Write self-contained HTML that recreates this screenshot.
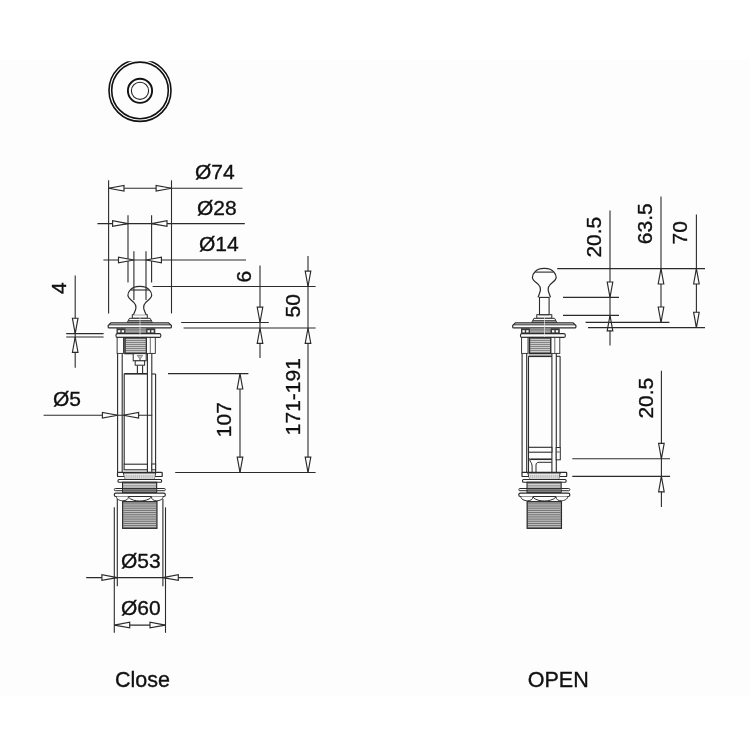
<!DOCTYPE html>
<html><head><meta charset="utf-8"><style>
html,body{margin:0;padding:0;background:#fff;}
svg{display:block;will-change:transform;}
</style></head><body>
<svg width="750" height="750" viewBox="0 0 750 750">
<rect width="750" height="750" fill="#fff"/>
<rect x="0" y="60" width="750" height="636" fill="#fdfdfd"/>
<defs><clipPath id="cp"><rect x="0" y="61.2" width="750" height="700"/></clipPath></defs>
<g clip-path="url(#cp)">
<circle cx="140" cy="90.4" r="31.0" fill="none" stroke="#111" stroke-width="1.6"/>
</g>
<circle cx="140" cy="90.4" r="28.3" fill="none" stroke="#111" stroke-width="1.6"/>
<circle cx="140" cy="90.8" r="12.1" fill="none" stroke="#111" stroke-width="1.9"/>
<circle cx="140" cy="90.8" r="8.6" fill="none" stroke="#222" stroke-width="1.1"/>
<rect x="132.3" y="314.7" width="15" height="3.6" rx="0" fill="#fdfdfd" stroke="#2b2b2b" stroke-width="1.0"/>
<path d="M129.5,318.3 L150.1,318.3 L152.4,322.6 L127.2,322.6 Z" fill="#fdfdfd" stroke="#2b2b2b" stroke-width="1.0"/>
<line x1="128.3" y1="320.5" x2="151.3" y2="320.5" stroke="#2b2b2b" stroke-width="0.8"/>
<rect x="127.6" y="321.3" width="24.4" height="1.3" rx="0" fill="#666" stroke="#2b2b2b" stroke-width="0"/>
<path d="M110.9,322.8 L168.6,322.8 L171.4,325.5 L171.4,326.9 Q171.4,327.8 170.4,327.8 L109.2,327.8 Q108.2,327.8 108.2,326.9 L108.2,325.5 Z" fill="#fdfdfd" stroke="#2b2b2b" stroke-width="1.2"/>
<line x1="109.2" y1="324.8" x2="170.4" y2="324.8" stroke="#2b2b2b" stroke-width="1.0"/>
<path d="M133.6,314.7 C134.3,312.3 135.8,310.3 135.95,307.8 C136.1,306.3 135.8,304.3 133.8,302.3 C131.8,300.3 128.0,298.3 127.9,295.3 C127.8,293.3 128.6,291.7 130.3,289.9 C131.8,287.8 134.8,286.3 139.8,286.3 C144.8,286.3 147.8,287.8 149.3,289.9 C151.0,291.7 151.8,293.3 151.7,295.3 C151.6,298.3 147.8,300.3 145.8,302.3 C143.8,304.3 143.5,306.3 143.65,307.8 C143.8,310.3 145.3,312.3 146.0,314.7" fill="#fdfdfd" stroke="#2b2b2b" stroke-width="1.2"/>
<line x1="130.6" y1="290.0" x2="149.0" y2="290.0" stroke="#2b2b2b" stroke-width="1.1"/>
<line x1="117.6" y1="328.6" x2="117.6" y2="472.6" stroke="#2b2b2b" stroke-width="1.1"/>
<line x1="122.2" y1="328.6" x2="122.2" y2="472.6" stroke="#2b2b2b" stroke-width="1.1"/>
<line x1="147.4" y1="328.6" x2="147.4" y2="472.6" stroke="#2b2b2b" stroke-width="1.1"/>
<line x1="151.8" y1="328.6" x2="151.8" y2="472.6" stroke="#2b2b2b" stroke-width="1.1"/>
<rect x="125.8" y="328.3" width="28" height="5.3" rx="0" fill="#858585" stroke="#2b2b2b" stroke-width="0"/>
<line x1="125.8" y1="331.2" x2="145.8" y2="331.2" stroke="#c8c8c8" stroke-width="0.6"/>
<rect x="116.5" y="328.3" width="9.2" height="5.3" rx="0" fill="#3a3a3a" stroke="#2b2b2b" stroke-width="0"/>
<rect x="117.9" y="330.2" width="2.4" height="2.2" rx="0" fill="#fdfdfd" stroke="#2b2b2b" stroke-width="0"/>
<rect x="121.7" y="330.2" width="2.4" height="2.2" rx="0" fill="#fdfdfd" stroke="#2b2b2b" stroke-width="0"/>
<rect x="146.1" y="328.3" width="9.2" height="5.3" rx="0" fill="#3a3a3a" stroke="#2b2b2b" stroke-width="0"/>
<rect x="147.5" y="330.2" width="2.4" height="2.2" rx="0" fill="#fdfdfd" stroke="#2b2b2b" stroke-width="0"/>
<rect x="151.3" y="330.2" width="2.4" height="2.2" rx="0" fill="#fdfdfd" stroke="#2b2b2b" stroke-width="0"/>
<rect x="116" y="333.6" width="44.8" height="3.8" rx="1.5" fill="#fdfdfd" stroke="#2b2b2b" stroke-width="1.1"/>
<rect x="124.9" y="337.6" width="21.6" height="16.0" rx="0" fill="#7c7c7c" stroke="#2b2b2b" stroke-width="1.4"/>
<line x1="125.9" y1="339.6" x2="145.5" y2="339.6" stroke="#dedede" stroke-width="0.9"/>
<line x1="125.9" y1="341.6" x2="145.5" y2="341.6" stroke="#dedede" stroke-width="0.9"/>
<line x1="125.9" y1="343.6" x2="145.5" y2="343.6" stroke="#dedede" stroke-width="0.9"/>
<line x1="125.9" y1="345.6" x2="145.5" y2="345.6" stroke="#dedede" stroke-width="0.9"/>
<line x1="125.9" y1="347.6" x2="145.5" y2="347.6" stroke="#dedede" stroke-width="0.9"/>
<line x1="125.9" y1="349.6" x2="145.5" y2="349.6" stroke="#dedede" stroke-width="0.9"/>
<line x1="125.9" y1="351.6" x2="145.5" y2="351.6" stroke="#dedede" stroke-width="0.9"/>
<rect x="117.1" y="337.4" width="6.4" height="16" rx="0" fill="#fdfdfd" stroke="#2b2b2b" stroke-width="0.9"/>
<rect x="146.5" y="337.4" width="8.8" height="16" rx="0" fill="#fdfdfd" stroke="#2b2b2b" stroke-width="0.9"/>
<line x1="150.3" y1="337.4" x2="150.3" y2="353.4" stroke="#2b2b2b" stroke-width="0.7"/>
<line x1="140.0" y1="316" x2="140.0" y2="337" stroke="#e8e8e8" stroke-width="0.7"/>
<line x1="137.4" y1="365.2" x2="137.4" y2="373.8" stroke="#2b2b2b" stroke-width="1.1"/>
<line x1="142.6" y1="365.2" x2="142.6" y2="373.8" stroke="#2b2b2b" stroke-width="1.1"/>
<rect x="133.2" y="353.6" width="13" height="7.2" rx="0" fill="#fdfdfd" stroke="#2b2b2b" stroke-width="1.0"/>
<path d="M137.2,355.4 L142.6,355.4 L141.0,357.8 L140.0,360 L139.0,357.8 Z" fill="#bbb" stroke="#555" stroke-width="0.6"/>
<rect x="135.2" y="360.8" width="9.4" height="4.4" rx="0" fill="#fdfdfd" stroke="#2b2b2b" stroke-width="1.0"/>
<line x1="124.2" y1="373.8" x2="147.4" y2="373.8" stroke="#2b2b2b" stroke-width="1.6"/>
<line x1="124.2" y1="373.8" x2="124.2" y2="464.2" stroke="#2b2b2b" stroke-width="1.1"/>
<line x1="151.8" y1="374" x2="155.6" y2="374" stroke="#2b2b2b" stroke-width="1.1"/>
<line x1="155.6" y1="374" x2="155.6" y2="472.6" stroke="#2b2b2b" stroke-width="1.1"/>
<rect x="124.1" y="464.2" width="23.3" height="5.6" rx="0" fill="#fdfdfd" stroke="#2b2b2b" stroke-width="1.1"/>
<rect x="151.8" y="464" width="3.8" height="5.8" rx="0" fill="#fdfdfd" stroke="#2b2b2b" stroke-width="1.0"/>
<rect x="117.5" y="472.4" width="44.7" height="4.1" rx="0.6" fill="#fdfdfd" stroke="#2b2b2b" stroke-width="1.2"/>
<path d="M123.3,473.0 L155.7,473.0 L154.1,479.4 L125.3,479.4 Z" fill="#fdfdfd" stroke="#2b2b2b" stroke-width="1.0"/>
<rect x="124.6" y="474.6" width="30.2" height="4.0" rx="0" fill="#bdbdbd" stroke="#2b2b2b" stroke-width="0"/>
<line x1="125.2" y1="474.6" x2="125.2" y2="478.6" stroke="#f0f0f0" stroke-width="0.6"/>
<line x1="127.1" y1="474.6" x2="127.1" y2="478.6" stroke="#f0f0f0" stroke-width="0.6"/>
<line x1="129" y1="474.6" x2="129" y2="478.6" stroke="#f0f0f0" stroke-width="0.6"/>
<line x1="130.9" y1="474.6" x2="130.9" y2="478.6" stroke="#f0f0f0" stroke-width="0.6"/>
<line x1="132.8" y1="474.6" x2="132.8" y2="478.6" stroke="#f0f0f0" stroke-width="0.6"/>
<line x1="134.7" y1="474.6" x2="134.7" y2="478.6" stroke="#f0f0f0" stroke-width="0.6"/>
<line x1="136.6" y1="474.6" x2="136.6" y2="478.6" stroke="#f0f0f0" stroke-width="0.6"/>
<line x1="138.5" y1="474.6" x2="138.5" y2="478.6" stroke="#f0f0f0" stroke-width="0.6"/>
<line x1="140.4" y1="474.6" x2="140.4" y2="478.6" stroke="#f0f0f0" stroke-width="0.6"/>
<line x1="142.3" y1="474.6" x2="142.3" y2="478.6" stroke="#f0f0f0" stroke-width="0.6"/>
<line x1="144.2" y1="474.6" x2="144.2" y2="478.6" stroke="#f0f0f0" stroke-width="0.6"/>
<line x1="146.1" y1="474.6" x2="146.1" y2="478.6" stroke="#f0f0f0" stroke-width="0.6"/>
<line x1="148.0" y1="474.6" x2="148.0" y2="478.6" stroke="#f0f0f0" stroke-width="0.6"/>
<line x1="149.9" y1="474.6" x2="149.9" y2="478.6" stroke="#f0f0f0" stroke-width="0.6"/>
<line x1="151.8" y1="474.6" x2="151.8" y2="478.6" stroke="#f0f0f0" stroke-width="0.6"/>
<line x1="153.7" y1="474.6" x2="153.7" y2="478.6" stroke="#f0f0f0" stroke-width="0.6"/>
<rect x="118" y="479.5" width="43.6" height="2.8" rx="1" fill="#fdfdfd" stroke="#2b2b2b" stroke-width="1.1"/>
<rect x="122.6" y="482.3" width="34" height="10" rx="0" fill="#efefef" stroke="#2b2b2b" stroke-width="1.2"/>
<line x1="123.2" y1="483.6" x2="156.4" y2="483.6" stroke="#666" stroke-width="0.8"/>
<line x1="123.2" y1="485.3" x2="156.4" y2="485.3" stroke="#777" stroke-width="0.8"/>
<line x1="123.2" y1="487.0" x2="156.4" y2="487.0" stroke="#666" stroke-width="0.8"/>
<rect x="114.3" y="488.5" width="51" height="2.2" rx="1" fill="none" stroke="#2b2b2b" stroke-width="1.0"/>
<rect x="123.2" y="488.9" width="33.2" height="1.5" rx="0" fill="#808080" stroke="#2b2b2b" stroke-width="0"/>
<line x1="123.2" y1="491.4" x2="156.4" y2="491.4" stroke="#777" stroke-width="0.8"/>
<rect x="114.3" y="493.2" width="51" height="3.3" rx="1.5" fill="#fdfdfd" stroke="#2b2b2b" stroke-width="1.2"/>
<path d="M116.4,496.5 C116.4,499.5 119.8,500.6 122.8,500.8 C125.8,500.8 128.5,499.5 128.5,496.5" fill="#fdfdfd" stroke="#2b2b2b" stroke-width="1.0"/>
<path d="M128.5,497.2 C130.8,500 135.8,501 139.8,501 C143.8,501 148.8,500 151.4,497.2" fill="#fdfdfd" stroke="#2b2b2b" stroke-width="1.0"/>
<path d="M151.4,496.5 C151.4,499.5 153.8,500.8 156.8,500.8 C159.8,500.6 163.1,499.5 163.1,496.5" fill="#fdfdfd" stroke="#2b2b2b" stroke-width="1.0"/>
<rect x="122.7" y="501.7" width="34.2" height="26.6" rx="0" fill="#d0d0d0" stroke="#2b2b2b" stroke-width="1.3"/>
<line x1="123.4" y1="503.2" x2="156.2" y2="503.2" stroke="#555" stroke-width="0.8"/>
<line x1="123.4" y1="505.05" x2="156.2" y2="505.05" stroke="#555" stroke-width="0.8"/>
<line x1="123.4" y1="506.9" x2="156.2" y2="506.9" stroke="#555" stroke-width="0.8"/>
<line x1="123.4" y1="508.75" x2="156.2" y2="508.75" stroke="#555" stroke-width="0.8"/>
<line x1="123.4" y1="510.6" x2="156.2" y2="510.6" stroke="#555" stroke-width="0.8"/>
<line x1="123.4" y1="512.45" x2="156.2" y2="512.45" stroke="#555" stroke-width="0.8"/>
<line x1="123.4" y1="514.3" x2="156.2" y2="514.3" stroke="#555" stroke-width="0.8"/>
<line x1="123.4" y1="516.15" x2="156.2" y2="516.15" stroke="#555" stroke-width="0.8"/>
<line x1="123.4" y1="518.0" x2="156.2" y2="518.0" stroke="#555" stroke-width="0.8"/>
<line x1="123.4" y1="519.85" x2="156.2" y2="519.85" stroke="#555" stroke-width="0.8"/>
<line x1="123.4" y1="521.7" x2="156.2" y2="521.7" stroke="#555" stroke-width="0.8"/>
<line x1="123.4" y1="523.55" x2="156.2" y2="523.55" stroke="#555" stroke-width="0.8"/>
<line x1="123.4" y1="525.4" x2="156.2" y2="525.4" stroke="#555" stroke-width="0.8"/>
<line x1="123.4" y1="527.25" x2="156.2" y2="527.25" stroke="#555" stroke-width="0.8"/>
<rect x="536.8" y="314.7" width="15" height="3.6" rx="0" fill="#fdfdfd" stroke="#2b2b2b" stroke-width="1.0"/>
<path d="M534.0,318.3 L554.6,318.3 L556.9,322.6 L531.7,322.6 Z" fill="#fdfdfd" stroke="#2b2b2b" stroke-width="1.0"/>
<line x1="532.8" y1="320.5" x2="555.8" y2="320.5" stroke="#2b2b2b" stroke-width="0.8"/>
<rect x="532.1" y="321.3" width="24.4" height="1.3" rx="0" fill="#666" stroke="#2b2b2b" stroke-width="0"/>
<path d="M515.4,322.8 L573.1,322.8 L575.9,325.5 L575.9,326.9 Q575.9,327.8 574.9,327.8 L513.7,327.8 Q512.7,327.8 512.7,326.9 L512.7,325.5 Z" fill="#fdfdfd" stroke="#2b2b2b" stroke-width="1.2"/>
<line x1="513.7" y1="324.8" x2="574.9" y2="324.8" stroke="#2b2b2b" stroke-width="1.0"/>
<path d="M538.1,297.4 C538.8,294.4 540.3,292.4 540.45,289.9 C540.6,288.4 540.3,286.4 538.3,284.4 C536.3,282.4 532.5,280.4 532.4,277.4 C532.3,275.4 533.1,273.8 534.8,272.0 C536.3,269.9 539.3,268.4 544.3,268.4 C549.3,268.4 552.3,269.9 553.8,272.0 C555.5,273.8 556.3,275.4 556.2,277.4 C556.1,280.4 552.3,282.4 550.3,284.4 C548.3,286.4 548.0,288.4 548.15,289.9 C548.3,292.4 549.8,294.4 550.5,297.4" fill="#fdfdfd" stroke="#2b2b2b" stroke-width="1.2"/>
<line x1="535.1" y1="272.1" x2="553.5" y2="272.1" stroke="#2b2b2b" stroke-width="1.1"/>
<rect x="539.5" y="297.4" width="9.6" height="17.3" rx="0" fill="#fdfdfd" stroke="#2b2b2b" stroke-width="1.1"/>
<line x1="522.1" y1="328.6" x2="522.1" y2="472.6" stroke="#2b2b2b" stroke-width="1.1"/>
<line x1="526.7" y1="328.6" x2="526.7" y2="472.6" stroke="#2b2b2b" stroke-width="1.1"/>
<line x1="551.9" y1="328.6" x2="551.9" y2="472.6" stroke="#2b2b2b" stroke-width="1.1"/>
<line x1="556.3" y1="328.6" x2="556.3" y2="472.6" stroke="#2b2b2b" stroke-width="1.1"/>
<rect x="530.3" y="328.3" width="28" height="5.3" rx="0" fill="#858585" stroke="#2b2b2b" stroke-width="0"/>
<line x1="530.3" y1="331.2" x2="550.3" y2="331.2" stroke="#c8c8c8" stroke-width="0.6"/>
<rect x="521.0" y="328.3" width="9.2" height="5.3" rx="0" fill="#3a3a3a" stroke="#2b2b2b" stroke-width="0"/>
<rect x="522.4" y="330.2" width="2.4" height="2.2" rx="0" fill="#fdfdfd" stroke="#2b2b2b" stroke-width="0"/>
<rect x="526.2" y="330.2" width="2.4" height="2.2" rx="0" fill="#fdfdfd" stroke="#2b2b2b" stroke-width="0"/>
<rect x="550.6" y="328.3" width="9.2" height="5.3" rx="0" fill="#3a3a3a" stroke="#2b2b2b" stroke-width="0"/>
<rect x="552" y="330.2" width="2.4" height="2.2" rx="0" fill="#fdfdfd" stroke="#2b2b2b" stroke-width="0"/>
<rect x="555.8" y="330.2" width="2.4" height="2.2" rx="0" fill="#fdfdfd" stroke="#2b2b2b" stroke-width="0"/>
<rect x="520.5" y="333.6" width="44.8" height="3.8" rx="1.5" fill="#fdfdfd" stroke="#2b2b2b" stroke-width="1.1"/>
<rect x="529.4" y="337.6" width="21.6" height="16.0" rx="0" fill="#7c7c7c" stroke="#2b2b2b" stroke-width="1.4"/>
<line x1="530.4" y1="339.6" x2="550.0" y2="339.6" stroke="#dedede" stroke-width="0.9"/>
<line x1="530.4" y1="341.6" x2="550.0" y2="341.6" stroke="#dedede" stroke-width="0.9"/>
<line x1="530.4" y1="343.6" x2="550.0" y2="343.6" stroke="#dedede" stroke-width="0.9"/>
<line x1="530.4" y1="345.6" x2="550.0" y2="345.6" stroke="#dedede" stroke-width="0.9"/>
<line x1="530.4" y1="347.6" x2="550.0" y2="347.6" stroke="#dedede" stroke-width="0.9"/>
<line x1="530.4" y1="349.6" x2="550.0" y2="349.6" stroke="#dedede" stroke-width="0.9"/>
<line x1="530.4" y1="351.6" x2="550.0" y2="351.6" stroke="#dedede" stroke-width="0.9"/>
<rect x="521.6" y="337.4" width="6.4" height="16" rx="0" fill="#fdfdfd" stroke="#2b2b2b" stroke-width="0.9"/>
<rect x="551.0" y="337.4" width="8.8" height="16" rx="0" fill="#fdfdfd" stroke="#2b2b2b" stroke-width="0.9"/>
<line x1="554.8" y1="337.4" x2="554.8" y2="353.4" stroke="#2b2b2b" stroke-width="0.7"/>
<line x1="544.5" y1="316" x2="544.5" y2="337" stroke="#e8e8e8" stroke-width="0.7"/>
<line x1="528.5" y1="356.3" x2="551.9" y2="356.3" stroke="#2b2b2b" stroke-width="1.6"/>
<line x1="528.5" y1="356.3" x2="528.5" y2="472.6" stroke="#2b2b2b" stroke-width="1.1"/>
<line x1="556.3" y1="356.3" x2="560.1" y2="356.3" stroke="#2b2b2b" stroke-width="1.1"/>
<line x1="560.1" y1="356.3" x2="560.1" y2="447.5" stroke="#2b2b2b" stroke-width="1.1"/>
<rect x="528.5" y="447.3" width="23.4" height="4.9" rx="0" fill="#fdfdfd" stroke="#2b2b2b" stroke-width="1.1"/>
<path d="M528.5,452.2 L528.5,457.5 C528.5,458.8 529.3,459.3 530.8,459.3 L551.7,459.3" fill="none" stroke="#2b2b2b" stroke-width="1.0"/>
<line x1="530.5" y1="459.3" x2="551.7" y2="459.3" stroke="#2b2b2b" stroke-width="1.5"/>
<rect x="556.2" y="447.5" width="4.1" height="12.3" rx="0" fill="#fdfdfd" stroke="#2b2b2b" stroke-width="1.0"/>
<line x1="556.9" y1="452" x2="559.7" y2="452" stroke="#2b2b2b" stroke-width="0.8"/>
<path d="M529.7,459.3 C529.7,462 532.1,462.5 532.1,466 L532.1,472.6" fill="none" stroke="#2b2b2b" stroke-width="1.0"/>
<path d="M536.0,472.6 L536.0,465 C536.0,463.2 537.1,462.3 539.0,462.3 L551.7,462.3" fill="none" stroke="#2b2b2b" stroke-width="1.0"/>
<rect x="522.0" y="472.4" width="44.7" height="4.1" rx="0.6" fill="#fdfdfd" stroke="#2b2b2b" stroke-width="1.2"/>
<path d="M527.8,473.0 L560.2,473.0 L558.6,479.4 L529.8,479.4 Z" fill="#fdfdfd" stroke="#2b2b2b" stroke-width="1.0"/>
<rect x="529.1" y="474.6" width="30.2" height="4.0" rx="0" fill="#bdbdbd" stroke="#2b2b2b" stroke-width="0"/>
<line x1="529.7" y1="474.6" x2="529.7" y2="478.6" stroke="#f0f0f0" stroke-width="0.6"/>
<line x1="531.6" y1="474.6" x2="531.6" y2="478.6" stroke="#f0f0f0" stroke-width="0.6"/>
<line x1="533.5" y1="474.6" x2="533.5" y2="478.6" stroke="#f0f0f0" stroke-width="0.6"/>
<line x1="535.4" y1="474.6" x2="535.4" y2="478.6" stroke="#f0f0f0" stroke-width="0.6"/>
<line x1="537.3" y1="474.6" x2="537.3" y2="478.6" stroke="#f0f0f0" stroke-width="0.6"/>
<line x1="539.2" y1="474.6" x2="539.2" y2="478.6" stroke="#f0f0f0" stroke-width="0.6"/>
<line x1="541.1" y1="474.6" x2="541.1" y2="478.6" stroke="#f0f0f0" stroke-width="0.6"/>
<line x1="543" y1="474.6" x2="543" y2="478.6" stroke="#f0f0f0" stroke-width="0.6"/>
<line x1="544.9" y1="474.6" x2="544.9" y2="478.6" stroke="#f0f0f0" stroke-width="0.6"/>
<line x1="546.8" y1="474.6" x2="546.8" y2="478.6" stroke="#f0f0f0" stroke-width="0.6"/>
<line x1="548.7" y1="474.6" x2="548.7" y2="478.6" stroke="#f0f0f0" stroke-width="0.6"/>
<line x1="550.6" y1="474.6" x2="550.6" y2="478.6" stroke="#f0f0f0" stroke-width="0.6"/>
<line x1="552.5" y1="474.6" x2="552.5" y2="478.6" stroke="#f0f0f0" stroke-width="0.6"/>
<line x1="554.4" y1="474.6" x2="554.4" y2="478.6" stroke="#f0f0f0" stroke-width="0.6"/>
<line x1="556.3" y1="474.6" x2="556.3" y2="478.6" stroke="#f0f0f0" stroke-width="0.6"/>
<line x1="558.2" y1="474.6" x2="558.2" y2="478.6" stroke="#f0f0f0" stroke-width="0.6"/>
<rect x="522.5" y="479.5" width="43.6" height="2.8" rx="1" fill="#fdfdfd" stroke="#2b2b2b" stroke-width="1.1"/>
<rect x="527.1" y="482.3" width="34" height="10" rx="0" fill="#efefef" stroke="#2b2b2b" stroke-width="1.2"/>
<line x1="527.7" y1="483.6" x2="560.9" y2="483.6" stroke="#666" stroke-width="0.8"/>
<line x1="527.7" y1="485.3" x2="560.9" y2="485.3" stroke="#777" stroke-width="0.8"/>
<line x1="527.7" y1="487.0" x2="560.9" y2="487.0" stroke="#666" stroke-width="0.8"/>
<rect x="518.8" y="488.5" width="51" height="2.2" rx="1" fill="none" stroke="#2b2b2b" stroke-width="1.0"/>
<rect x="527.7" y="488.9" width="33.2" height="1.5" rx="0" fill="#808080" stroke="#2b2b2b" stroke-width="0"/>
<line x1="527.7" y1="491.4" x2="560.9" y2="491.4" stroke="#777" stroke-width="0.8"/>
<rect x="518.8" y="493.2" width="51" height="3.3" rx="1.5" fill="#fdfdfd" stroke="#2b2b2b" stroke-width="1.2"/>
<path d="M520.9,496.5 C520.9,499.5 524.3,500.6 527.3,500.8 C530.3,500.8 533.0,499.5 533.0,496.5" fill="#fdfdfd" stroke="#2b2b2b" stroke-width="1.0"/>
<path d="M533.0,497.2 C535.3,500 540.3,501 544.3,501 C548.3,501 553.3,500 555.9,497.2" fill="#fdfdfd" stroke="#2b2b2b" stroke-width="1.0"/>
<path d="M555.9,496.5 C555.9,499.5 558.3,500.8 561.3,500.8 C564.3,500.6 567.6,499.5 567.6,496.5" fill="#fdfdfd" stroke="#2b2b2b" stroke-width="1.0"/>
<rect x="527.2" y="501.7" width="34.2" height="26.6" rx="0" fill="#d0d0d0" stroke="#2b2b2b" stroke-width="1.3"/>
<line x1="527.9" y1="503.2" x2="560.7" y2="503.2" stroke="#555" stroke-width="0.8"/>
<line x1="527.9" y1="505.05" x2="560.7" y2="505.05" stroke="#555" stroke-width="0.8"/>
<line x1="527.9" y1="506.9" x2="560.7" y2="506.9" stroke="#555" stroke-width="0.8"/>
<line x1="527.9" y1="508.75" x2="560.7" y2="508.75" stroke="#555" stroke-width="0.8"/>
<line x1="527.9" y1="510.6" x2="560.7" y2="510.6" stroke="#555" stroke-width="0.8"/>
<line x1="527.9" y1="512.45" x2="560.7" y2="512.45" stroke="#555" stroke-width="0.8"/>
<line x1="527.9" y1="514.3" x2="560.7" y2="514.3" stroke="#555" stroke-width="0.8"/>
<line x1="527.9" y1="516.15" x2="560.7" y2="516.15" stroke="#555" stroke-width="0.8"/>
<line x1="527.9" y1="518.0" x2="560.7" y2="518.0" stroke="#555" stroke-width="0.8"/>
<line x1="527.9" y1="519.85" x2="560.7" y2="519.85" stroke="#555" stroke-width="0.8"/>
<line x1="527.9" y1="521.7" x2="560.7" y2="521.7" stroke="#555" stroke-width="0.8"/>
<line x1="527.9" y1="523.55" x2="560.7" y2="523.55" stroke="#555" stroke-width="0.8"/>
<line x1="527.9" y1="525.4" x2="560.7" y2="525.4" stroke="#555" stroke-width="0.8"/>
<line x1="527.9" y1="527.25" x2="560.7" y2="527.25" stroke="#555" stroke-width="0.8"/>
<line x1="108.6" y1="180.3" x2="108.6" y2="313.5" stroke="#2b2b2b" stroke-width="1.1"/>
<line x1="171.5" y1="180.3" x2="171.5" y2="313.5" stroke="#2b2b2b" stroke-width="1.1"/>
<line x1="108.6" y1="188.3" x2="242.5" y2="188.3" stroke="#2b2b2b" stroke-width="1.1"/>
<polygon points="108.60,188.30 124.00,185.50 124.00,191.10" fill="#fdfdfd" stroke="#2b2b2b" stroke-width="1.15" stroke-linejoin="miter"/>
<polygon points="171.50,188.30 156.10,185.50 156.10,191.10" fill="#fdfdfd" stroke="#2b2b2b" stroke-width="1.15" stroke-linejoin="miter"/>
<line x1="128" y1="215.3" x2="128" y2="282.5" stroke="#2b2b2b" stroke-width="1.1"/>
<line x1="151.6" y1="215.3" x2="151.6" y2="282.5" stroke="#2b2b2b" stroke-width="1.1"/>
<line x1="97.4" y1="223.6" x2="244.8" y2="223.6" stroke="#2b2b2b" stroke-width="1.1"/>
<polygon points="128.00,223.60 112.60,220.80 112.60,226.40" fill="#fdfdfd" stroke="#2b2b2b" stroke-width="1.15" stroke-linejoin="miter"/>
<polygon points="151.60,223.60 167.00,220.80 167.00,226.40" fill="#fdfdfd" stroke="#2b2b2b" stroke-width="1.15" stroke-linejoin="miter"/>
<line x1="133.9" y1="251.2" x2="133.9" y2="300" stroke="#2b2b2b" stroke-width="1.1"/>
<line x1="146" y1="251.2" x2="146" y2="300" stroke="#2b2b2b" stroke-width="1.1"/>
<line x1="103.4" y1="260" x2="246" y2="260" stroke="#2b2b2b" stroke-width="1.1"/>
<polygon points="133.90,260.00 118.50,257.20 118.50,262.80" fill="#fdfdfd" stroke="#2b2b2b" stroke-width="1.15" stroke-linejoin="miter"/>
<polygon points="146.00,260.00 161.40,257.20 161.40,262.80" fill="#fdfdfd" stroke="#2b2b2b" stroke-width="1.15" stroke-linejoin="miter"/>
<line x1="152.6" y1="286.5" x2="315.6" y2="286.5" stroke="#2b2b2b" stroke-width="1.1"/>
<line x1="181.2" y1="322.5" x2="268.8" y2="322.5" stroke="#2b2b2b" stroke-width="1.1"/>
<line x1="183.6" y1="328" x2="315.6" y2="328" stroke="#2b2b2b" stroke-width="1.1"/>
<line x1="260" y1="265.6" x2="260" y2="358" stroke="#2b2b2b" stroke-width="1.1"/>
<polygon points="260.00,322.50 257.20,307.10 262.80,307.10" fill="#fdfdfd" stroke="#2b2b2b" stroke-width="1.15" stroke-linejoin="miter"/>
<polygon points="260.00,328.00 257.20,343.40 262.80,343.40" fill="#fdfdfd" stroke="#2b2b2b" stroke-width="1.15" stroke-linejoin="miter"/>
<line x1="308" y1="256" x2="308" y2="472.5" stroke="#2b2b2b" stroke-width="1.1"/>
<polygon points="308.00,286.50 305.20,271.10 310.80,271.10" fill="#fdfdfd" stroke="#2b2b2b" stroke-width="1.15" stroke-linejoin="miter"/>
<polygon points="308.00,328.00 305.20,343.40 310.80,343.40" fill="#fdfdfd" stroke="#2b2b2b" stroke-width="1.15" stroke-linejoin="miter"/>
<polygon points="308.00,472.50 305.20,457.10 310.80,457.10" fill="#fdfdfd" stroke="#2b2b2b" stroke-width="1.15" stroke-linejoin="miter"/>
<line x1="168" y1="373.6" x2="248.4" y2="373.6" stroke="#2b2b2b" stroke-width="1.1"/>
<line x1="240" y1="373.6" x2="240" y2="472.5" stroke="#2b2b2b" stroke-width="1.1"/>
<polygon points="240.00,373.60 237.20,389.00 242.80,389.00" fill="#fdfdfd" stroke="#2b2b2b" stroke-width="1.15" stroke-linejoin="miter"/>
<polygon points="240.00,472.50 237.20,457.10 242.80,457.10" fill="#fdfdfd" stroke="#2b2b2b" stroke-width="1.15" stroke-linejoin="miter"/>
<line x1="175.2" y1="472.5" x2="315.6" y2="472.5" stroke="#2b2b2b" stroke-width="1.1"/>
<line x1="75.2" y1="275.4" x2="75.2" y2="367.8" stroke="#2b2b2b" stroke-width="1.1"/>
<line x1="66.2" y1="333.6" x2="103.6" y2="333.6" stroke="#2b2b2b" stroke-width="1.1"/>
<line x1="66.2" y1="337" x2="103.6" y2="337" stroke="#2b2b2b" stroke-width="1.1"/>
<polygon points="75.20,333.60 72.40,318.20 78.00,318.20" fill="#fdfdfd" stroke="#2b2b2b" stroke-width="1.15" stroke-linejoin="miter"/>
<polygon points="75.20,337.00 72.40,352.40 78.00,352.40" fill="#fdfdfd" stroke="#2b2b2b" stroke-width="1.15" stroke-linejoin="miter"/>
<line x1="43.6" y1="415.3" x2="152.2" y2="415.3" stroke="#2b2b2b" stroke-width="1.1"/>
<polygon points="117.80,415.30 102.40,412.50 102.40,418.10" fill="#fdfdfd" stroke="#2b2b2b" stroke-width="1.15" stroke-linejoin="miter"/>
<polygon points="123.20,415.30 138.60,412.50 138.60,418.10" fill="#fdfdfd" stroke="#2b2b2b" stroke-width="1.15" stroke-linejoin="miter"/>
<line x1="117.3" y1="499" x2="117.3" y2="586.2" stroke="#2b2b2b" stroke-width="1.1"/>
<line x1="162.9" y1="499" x2="162.9" y2="586.2" stroke="#2b2b2b" stroke-width="1.1"/>
<line x1="86.2" y1="577.6" x2="193" y2="577.6" stroke="#2b2b2b" stroke-width="1.1"/>
<polygon points="117.30,577.60 101.90,574.80 101.90,580.40" fill="#fdfdfd" stroke="#2b2b2b" stroke-width="1.15" stroke-linejoin="miter"/>
<polygon points="162.90,577.60 178.30,574.80 178.30,580.40" fill="#fdfdfd" stroke="#2b2b2b" stroke-width="1.15" stroke-linejoin="miter"/>
<line x1="114.3" y1="507.3" x2="114.3" y2="632.8" stroke="#2b2b2b" stroke-width="1.1"/>
<line x1="165.5" y1="507.3" x2="165.5" y2="632.8" stroke="#2b2b2b" stroke-width="1.1"/>
<line x1="114.3" y1="625.1" x2="165.4" y2="625.1" stroke="#2b2b2b" stroke-width="1.1"/>
<polygon points="114.30,625.10 129.70,622.30 129.70,627.90" fill="#fdfdfd" stroke="#2b2b2b" stroke-width="1.15" stroke-linejoin="miter"/>
<polygon points="165.40,625.10 150.00,622.30 150.00,627.90" fill="#fdfdfd" stroke="#2b2b2b" stroke-width="1.15" stroke-linejoin="miter"/>
<line x1="557.2" y1="268.6" x2="705" y2="268.6" stroke="#2b2b2b" stroke-width="1.1"/>
<line x1="610" y1="210.6" x2="610" y2="345.4" stroke="#2b2b2b" stroke-width="1.1"/>
<polygon points="610.00,297.40 607.20,282.00 612.80,282.00" fill="#fdfdfd" stroke="#2b2b2b" stroke-width="1.15" stroke-linejoin="miter"/>
<polygon points="610.00,315.40 607.20,330.80 612.80,330.80" fill="#fdfdfd" stroke="#2b2b2b" stroke-width="1.15" stroke-linejoin="miter"/>
<line x1="563" y1="297.4" x2="619" y2="297.4" stroke="#2b2b2b" stroke-width="1.1"/>
<line x1="563" y1="315.4" x2="619" y2="315.4" stroke="#2b2b2b" stroke-width="1.1"/>
<line x1="585.6" y1="322.4" x2="669.4" y2="322.4" stroke="#2b2b2b" stroke-width="1.1"/>
<line x1="588" y1="327.6" x2="705" y2="327.6" stroke="#2b2b2b" stroke-width="1.1"/>
<line x1="661" y1="196.6" x2="661" y2="322.4" stroke="#2b2b2b" stroke-width="1.1"/>
<polygon points="661.00,268.60 658.20,284.00 663.80,284.00" fill="#fdfdfd" stroke="#2b2b2b" stroke-width="1.15" stroke-linejoin="miter"/>
<polygon points="661.00,322.40 658.20,307.00 663.80,307.00" fill="#fdfdfd" stroke="#2b2b2b" stroke-width="1.15" stroke-linejoin="miter"/>
<line x1="696.4" y1="214.6" x2="696.4" y2="327.6" stroke="#2b2b2b" stroke-width="1.1"/>
<polygon points="696.40,268.60 693.60,284.00 699.20,284.00" fill="#fdfdfd" stroke="#2b2b2b" stroke-width="1.15" stroke-linejoin="miter"/>
<polygon points="696.40,327.60 693.60,312.20 699.20,312.20" fill="#fdfdfd" stroke="#2b2b2b" stroke-width="1.15" stroke-linejoin="miter"/>
<line x1="661.4" y1="370.8" x2="661.4" y2="507" stroke="#2b2b2b" stroke-width="1.1"/>
<polygon points="661.40,458.80 658.60,443.40 664.20,443.40" fill="#fdfdfd" stroke="#2b2b2b" stroke-width="1.15" stroke-linejoin="miter"/>
<polygon points="661.40,476.40 658.60,491.80 664.20,491.80" fill="#fdfdfd" stroke="#2b2b2b" stroke-width="1.15" stroke-linejoin="miter"/>
<line x1="572.3" y1="458.8" x2="670" y2="458.8" stroke="#2b2b2b" stroke-width="1.1"/>
<line x1="572.3" y1="476.4" x2="670" y2="476.4" stroke="#2b2b2b" stroke-width="1.1"/>
<g font-family="&quot;Liberation Sans&quot;, sans-serif" fill="#111" stroke="#111" stroke-width="0.35">
<text x="195" y="179.2" font-size="21" text-anchor="start">Ø74</text>
<text x="197" y="214.7" font-size="21" text-anchor="start">Ø28</text>
<text x="199" y="250.7" font-size="21" text-anchor="start">Ø14</text>
<text x="0" y="0" transform="translate(250.8,282.6) rotate(-90)" font-size="21" text-anchor="start">6</text>
<text x="0" y="0" transform="translate(299.8,317.4) rotate(-90)" font-size="21" text-anchor="start">50</text>
<text x="0" y="0" transform="translate(299.8,435.2) rotate(-90)" font-size="21" text-anchor="start">171-191</text>
<text x="0" y="0" transform="translate(231.4,437.2) rotate(-90)" font-size="21" text-anchor="start">107</text>
<text x="0" y="0" transform="translate(66.4,294) rotate(-90)" font-size="21" text-anchor="start">4</text>
<text x="53.0" y="405.6" font-size="21" text-anchor="start">Ø5</text>
<text x="121" y="568" font-size="21" text-anchor="start">Ø53</text>
<text x="121" y="614.8" font-size="21" text-anchor="start">Ø60</text>
<text x="0" y="0" transform="translate(601.4,257.6) rotate(-90)" font-size="21" text-anchor="start">20.5</text>
<text x="0" y="0" transform="translate(652.2,244.2) rotate(-90)" font-size="21" text-anchor="start">63.5</text>
<text x="0" y="0" transform="translate(687.3,244.4) rotate(-90)" font-size="21" text-anchor="start">70</text>
<text x="0" y="0" transform="translate(652.8,418.6) rotate(-90)" font-size="21" text-anchor="start">20.5</text>
<text x="115" y="687" font-size="21.5" text-anchor="start">Close</text>
<text x="527.8" y="687" font-size="21.5" text-anchor="start">OPEN</text>
</g>
</svg>
</body></html>
